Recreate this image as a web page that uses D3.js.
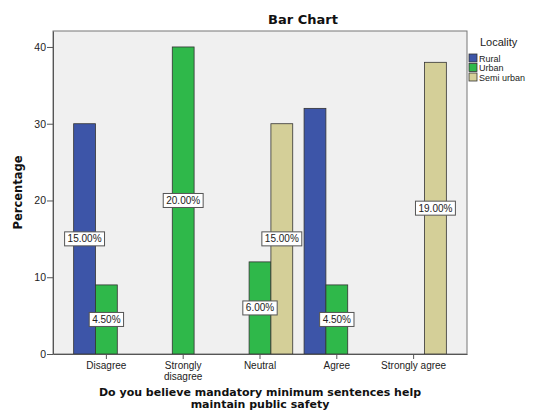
<!DOCTYPE html>
<html>
<head>
<meta charset="utf-8">
<script src="https://cdn.jsdelivr.net/npm/d3@7"></script>
<style>
  body { margin: 0; background: #fff; }
  svg { display: block; }
  text { font-family: "Liberation Sans", Arial, sans-serif; fill: #222; }
  .title { font-family: "DejaVu Sans", Verdana, sans-serif; font-weight: bold; fill: #111; }
</style>
</head>
<body>
<svg id="chart"></svg>
<script>
const width = 536;
const height = 412;
const margin = { top: 31, right: 69, bottom: 58, left: 53 };

const categories = ['Disagree', 'Strongly disagree', 'Neutral', 'Agree', 'Strongly agree'];
const localities = ['Rural', 'Urban', 'Semi urban'];
const rural = [30, 0, 0, 32, 0];
const urban = [9, 40, 12, 9, 0];
const semiUrban = [0, 0, 30, 0, 38];
const ruralLabels = ['15.00%', null, null, null, null];
const urbanLabels = ['4.50%', '20.00%', '6.00%', '4.50%', null];
const semiUrbanLabels = [null, null, '15.00%', null, '19.00%'];
const yTicks = [0, 10, 20, 30, 40];

const colors = d3.scaleOrdinal()
    .domain(localities)
    .range(['#3d55a8', '#2fb84a', '#d4cf98']);

// flatten into rows for drawing
const seriesValues = [rural, urban, semiUrban];
const seriesLabels = [ruralLabels, urbanLabels, semiUrbanLabels];
const rows = [];
categories.forEach((c, i) => {
    localities.forEach((k, j) => {
        rows.push({ cat: c, key: k, value: seriesValues[j][i], label: seriesLabels[j][i] });
    });
});

const svg = d3.select('#chart')
    .attr('width', width)
    .attr('height', height);

const x0 = d3.scaleBand()
    .domain(categories)
    .range([margin.left, width - margin.right])
    .paddingInner(0)
    .paddingOuter(0.195);

const x1 = d3.scaleBand()
    .domain(localities)
    .range([0, x0.bandwidth()])
    .paddingInner(0)
    .paddingOuter(0.26);

const y = d3.scaleLinear()
    .domain([0, 42.08])
    .range([height - margin.bottom, margin.top]);

// plot background
svg.append('rect')
    .attr('x', margin.left)
    .attr('y', margin.top)
    .attr('width', width - margin.left - margin.right)
    .attr('height', height - margin.top - margin.bottom)
    .attr('fill', '#f0f0f0')
    .attr('stroke', '#777')
    .attr('stroke-width', 1);

// bars
svg.append('g')
    .selectAll('rect')
    .data(rows.filter(d => d.value > 0))
    .enter()
    .append('rect')
    .attr('x', d => x0(d.cat) + x1(d.key))
    .attr('y', d => y(d.value))
    .attr('width', x1.bandwidth())
    .attr('height', d => y(0) - y(d.value))
    .attr('fill', d => colors(d.key))
    .attr('stroke', '#333')
    .attr('stroke-width', 0.8);

// y axis
const yAxis = svg.append('g')
    .attr('transform', `translate(${margin.left}, 0)`)
    .call(d3.axisLeft(y).tickValues(yTicks).tickSize(6).tickSizeOuter(0));
yAxis.select('.domain').attr('stroke', '#555');
yAxis.selectAll('.tick line').attr('stroke', '#555');
yAxis.selectAll('.tick text')
    .attr('x', -7)
    .style('font-size', '10.5px')
    .style('font-family', '"Liberation Sans", Arial, sans-serif')
    .attr('fill', '#222');

// x axis
const xAxis = svg.append('g')
    .attr('transform', `translate(0, ${height - margin.bottom})`)
    .call(d3.axisBottom(x0).tickSize(5).tickSizeOuter(0));
xAxis.select('.domain').attr('stroke', '#555');
xAxis.selectAll('.tick line').attr('stroke', '#555');
xAxis.selectAll('.tick text').remove();
xAxis.selectAll('.tick').each(function(d) {
    const words = d === 'Strongly disagree' ? ['Strongly', 'disagree'] : [d];
    const t = d3.select(this).append('text')
        .attr('text-anchor', 'middle')
        .attr('fill', '#222')
        .style('font-size', '10px')
        .style('font-family', '"Liberation Sans", Arial, sans-serif');
    words.forEach((w, i) => {
        t.append('tspan').attr('x', 0).attr('y', 15 + i * 11).text(w);
    });
});

// data labels
const labelG = svg.append('g');
rows.filter(d => d.label).forEach(d => {
    const cx = x0(d.cat) + x1(d.key) + x1.bandwidth() / 2;
    const cy = y(d.value / 2);
    const g = labelG.append('g').attr('transform', `translate(${cx}, ${cy})`);
    const t = g.append('text')
        .attr('text-anchor', 'middle')
        .attr('dy', '0.35em')
        .style('font-size', '10px')
        .text(d.label);
    const w = t.node().getComputedTextLength() + 6;
    g.insert('rect', 'text')
        .attr('x', -w / 2)
        .attr('y', -7)
        .attr('width', w)
        .attr('height', 14)
        .attr('fill', '#fff')
        .attr('stroke', '#555')
        .attr('stroke-width', 1);
});

// titles
svg.append('text')
    .attr('class', 'title')
    .attr('x', 303)
    .attr('y', 24)
    .attr('text-anchor', 'middle')
    .style('font-size', '13px')
    .text('Bar Chart');

svg.append('text')
    .attr('class', 'title')
    .attr('transform', `translate(22, ${(margin.top + height - margin.bottom) / 2}) rotate(-90)`)
    .attr('text-anchor', 'middle')
    .style('font-size', '11.5px')
    .text('Percentage');

const xTitle = svg.append('text')
    .attr('class', 'title')
    .attr('text-anchor', 'middle')
    .style('font-size', '11px');
['Do you believe mandatory minimum sentences help', 'maintain public safety'].forEach((line, i) => {
    xTitle.append('tspan')
        .attr('x', (margin.left + width - margin.right) / 2)
        .attr('y', 396 + i * 12)
        .text(line);
});

// legend
const legend = svg.append('g')
    .attr('transform', `translate(469, 0)`);
legend.append('text')
    .attr('x', 11)
    .attr('y', 46)
    .style('font-size', '11px')
    .attr('fill', '#444')
    .text('Locality');
legend.selectAll('.legend-item')
    .data(localities)
    .enter()
    .append('g')
    .attr('class', 'legend-item')
    .attr('transform', (d, i) => `translate(0, ${54 + i * 9.5})`)
    .each(function(d) {
        d3.select(this).append('rect')
            .attr('width', 8)
            .attr('height', 8)
            .attr('fill', colors(d))
            .attr('stroke', '#333')
            .attr('stroke-width', 0.8);
        d3.select(this).append('text')
            .attr('x', 10)
            .attr('y', 7.5)
            .style('font-size', '9px')
            .text(d);
    });
</script>
</body>
</html>
